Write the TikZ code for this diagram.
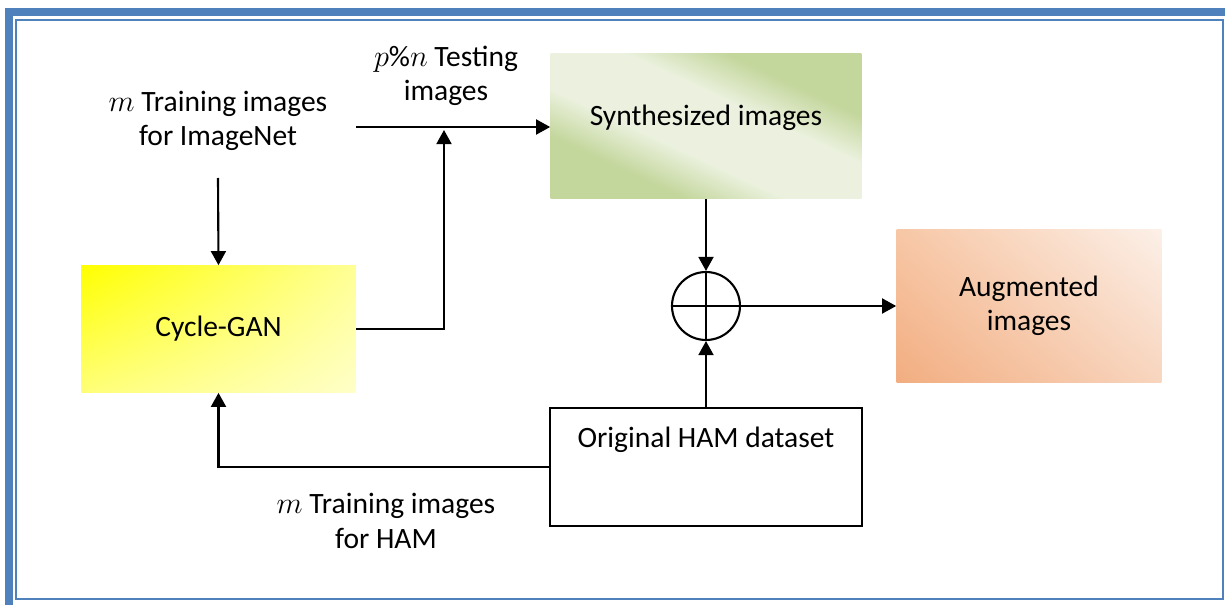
\documentclass[tikz,border=0pt]{standalone}
\usepackage{fontspec}
\setmainfont{Carlito}
\usetikzlibrary{arrows.meta,shadings}
\definecolor{frameblue}{HTML}{4F81BD}
\definecolor{gdark}{HTML}{C3D69B}
\definecolor{glight}{HTML}{EBF1DE}
\definecolor{yUL}{HTML}{FFFF00}
\definecolor{yUR}{HTML}{FFFF96}
\definecolor{yLL}{HTML}{FFFF78}
\definecolor{yLR}{HTML}{FFFFC8}
\definecolor{oUL}{HTML}{F7C7A6}
\definecolor{oUR}{HTML}{FCF0E8}
\definecolor{oLL}{HTML}{F2AD80}
\definecolor{oLR}{HTML}{F8D5BE}
\pgfdeclarehorizontalshading{synthshade}{100bp}{color(0bp)=(gdark); color(31bp)=(gdark); color(42bp)=(glight); color(58bp)=(glight); color(69bp)=(gdark); color(100bp)=(gdark)}
\tikzset{
  conn/.style={line width=1.2pt, -{Triangle[length=8pt,width=8.5pt]}},
  plain/.style={line width=1.2pt},
  lbl/.style={font=\fontsize{16.8}{19.5}\selectfont, align=center, inner sep=0pt},
  box/.style={inner sep=0pt, font=\fontsize{16.8}{19.5}\selectfont, align=center},
}
\begin{document}
\begin{tikzpicture}[x=0.02cm,y=-0.02cm]
\useasboundingbox (0,0) rectangle (1225,605);
% frames
\draw[frameblue, line width=4.5pt] (9,12) rectangle (1240,620);
\draw[frameblue, line width=1.6pt] (16,20) rectangle (1223,599);
% boxes
\node[box, minimum width=5.5cm, minimum height=2.54cm,
  upper left=yUL, upper right=yUR, lower left=yLL, lower right=yLR] (gan) at (218.5,329) {Cycle-GAN};
\node[box, minimum width=6.22cm, minimum height=2.92cm, shading=synthshade, shading angle=65] (syn) at (706,126) {};
\node[box] at (706,118) {Synthesized images};
\node[box, minimum width=5.3cm, minimum height=3.08cm,
  upper left=oUL, upper right=oUR, lower left=oLL, lower right=oLR] (aug) at (1029,306) {Augmented\\images};
\node[draw, line width=1.2pt, minimum width=6.24cm, minimum height=2.36cm, inner sep=0pt] (ham) at (706,467) {};
\node[box] at (706,440) {Original HAM dataset};
\node[draw, circle, line width=1.2pt, minimum size=1.36cm, inner sep=0pt] (sum) at (706,306) {};
\draw[plain] (sum.north) -- (sum.south) (sum.west) -- (sum.east);
% labels
\node[lbl] (tin) at (218,121) {$m$ Training images\\for ImageNet};
\node[lbl] (tst) at (446,76) {$p\%n$ Testing\\images};
\node[lbl] (tham) at (386,521) {$m$ Training images\\for HAM};
% connectors
\coordinate (a1) at (356,127);
\draw[conn] (218,178) -- (gan.north);
\draw[conn] (a1) -- (a1 -| syn.west);
\coordinate (j1) at (444,329);
\draw[conn] (gan.east |- j1) -- (j1) -- (444,130);
\draw[conn] (syn.south -| sum) -- (sum.north);
\draw[conn] (sum.east) -- (sum.east -| aug.west);
\draw[conn] (ham.north -| sum) -- (sum.south);
\draw[conn] (ham.west) -- (ham.west -| gan) -- (gan.south);
\end{tikzpicture}
\end{document}
